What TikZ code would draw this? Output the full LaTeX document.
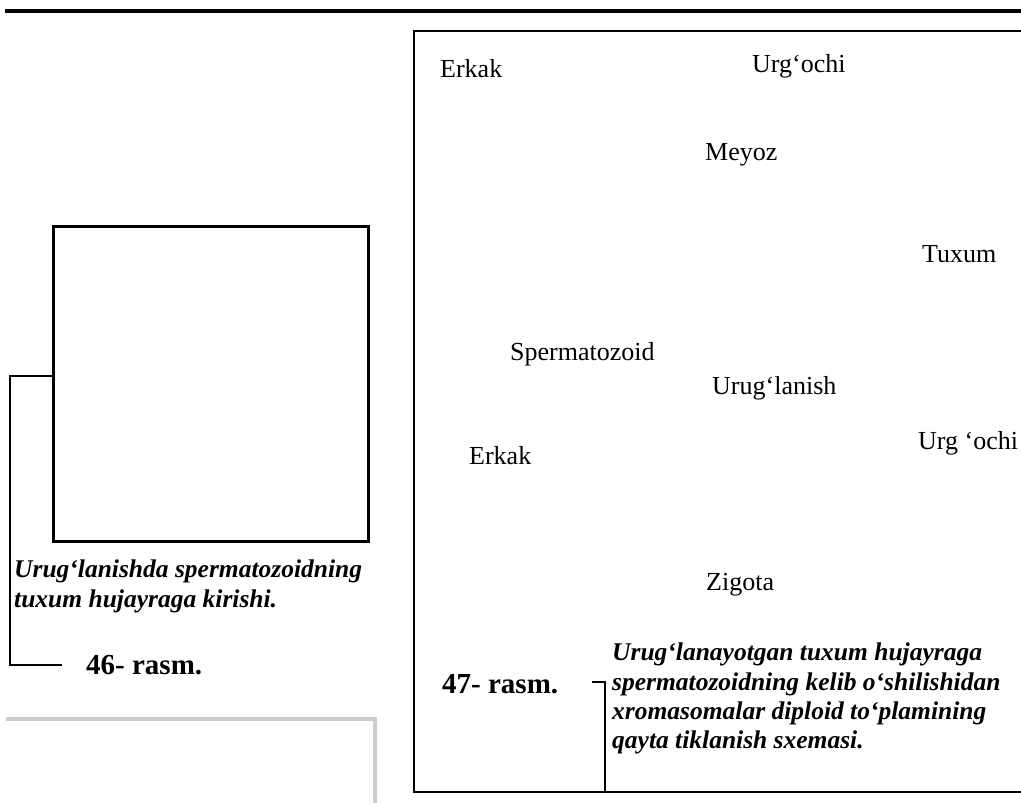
\documentclass[tikz,border=0pt]{standalone}
\usepackage{fontspec}
\setmainfont{Liberation Serif}
\begin{document}
\begin{tikzpicture}[x=1pt,y=-1pt,
  lbl/.style={anchor=base west,inner sep=0pt,font=\fontsize{26}{26}\selectfont},
  captxt/.style={anchor=base west,inner sep=0pt,font=\fontsize{25.5}{25.5}\selectfont\bfseries\itshape},
  fignum/.style={anchor=base west,inner sep=0pt,font=\fontsize{29}{29}\selectfont\bfseries},
  boxline/.style={draw=black,line width=2.8pt},
  brk/.style={draw=black,line width=2.4pt}]
\useasboundingbox (0,0) rectangle (1021,803);
\fill[white] (0,0) rectangle (1021,803);
% top rule
\coordinate (tl) at (5,11);
\coordinate (tr) at (1021,11);
\draw[line width=3.6pt] (tl) -- (tr);
% faint grey frame bottom-left
\coordinate (g1) at (6,719);
\coordinate (g2) at (375,719);
\coordinate (g3) at (375,803);
\draw[line width=4.5pt,color=black!20] (g1) -- (g2) -- (g3);
% left figure box
\node[boxline,minimum width=315pt,minimum height=315pt,inner sep=0pt,anchor=north west] (lbox) at (52,225) {};
\coordinate (b1) at (10,376);
\coordinate (b2) at (10,665);
\coordinate (b3) at (62,665);
\draw[brk] (lbox.west |- b1) -- (b1) -- (b2) -- (b3);
\node[captxt] (c46a) at (14,577) {Urug‘lanishda spermatozoidning};
\node[captxt] (c46b) at (14,607) {tuxum hujayraga kirishi.};
\node[fignum] (f46) at (86,674) {46- rasm.};
% right figure frame (right side off canvas)
\coordinate (r1) at (1024,31);
\coordinate (r2) at (414,31);
\coordinate (r3) at (414,792);
\coordinate (r4) at (1024,792);
\draw[boxline,line join=miter] (r1) -- (r2) -- (r3) -- (r4);
% labels
\node[lbl] (erkak1) at (440,77) {Erkak};
\node[lbl] (urgochi1) at (752,72) {Urg‘ochi};
\node[lbl] (meyoz) at (705,160) {Meyoz};
\node[lbl] (tuxum) at (922,262) {Tuxum};
\node[lbl] (sperm) at (510,360) {Spermatozoid};
\node[lbl] (urug) at (712,394) {Urug‘lanish};
\node[lbl] (urgochi2) at (918,449) {Urg ‘ochi};
\node[lbl] (erkak2) at (469,464) {Erkak};
\node[lbl] (zigota) at (706,590) {Zigota};
% caption 47
\node[fignum] (f47) at (442,693) {47- rasm.};
\coordinate (k1) at (592,682);
\coordinate (k2) at (605,682);
\draw[brk] (k1) -- (k2) -- (k2 |- r3);
\node[captxt] (c47a) at (612,660) {Urug‘lanayotgan tuxum hujayraga};
\node[captxt] (c47b) at (612,690) {spermatozoidning kelib o‘shilishidan};
\node[captxt] (c47c) at (612,719) {xromasomalar diploid to‘plamining};
\node[captxt] (c47d) at (612,748) {qayta tiklanish sxemasi.};
\end{tikzpicture}
\end{document}
